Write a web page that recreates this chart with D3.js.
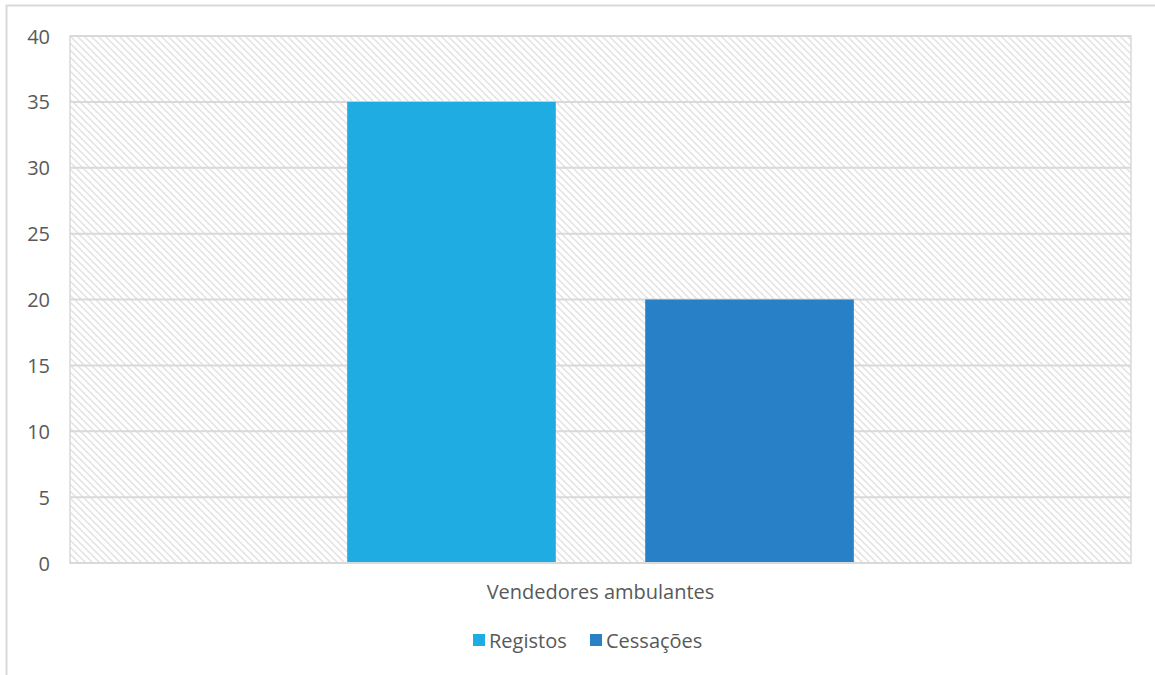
<!DOCTYPE html>
<html><head><meta charset="utf-8">
<script src="https://cdn.jsdelivr.net/npm/d3@7"></script>
<style>body{margin:0;background:#fff;} text{font-family:"Open Sans","Lato",sans-serif;fill:#595959;}</style>
</head><body>
<svg id="c" width="1155" height="675"></svg>
<script>
const categories = ["Vendedores ambulantes"];
const seriesNames = ["Registos", "Cessações"];
const registos = [35];
const cessacoes = [20];
const yTicks = [0, 5, 10, 15, 20, 25, 30, 35, 40];
const colors = ["#1FACE3", "#2880C6"];

const svg = d3.select("#c");
const W = 1155, H = 675;
const m = {left: 70, right: 24, top: 36, bottom: 112};
const pw = W - m.left - m.right, ph = H - m.top - m.bottom;

// outer border
svg.append("rect").attr("x", 6.5).attr("y", 5.5).attr("width", W + 10).attr("height", H + 10)
  .attr("fill", "#fff").attr("stroke", "#d9d9d9").attr("stroke-width", 2);

const defs = svg.append("defs");
const S = 7;
const pat = defs.append("pattern").attr("id", "hatch").attr("patternUnits", "userSpaceOnUse")
  .attr("width", S).attr("height", S);
pat.append("rect").attr("width", S).attr("height", S).attr("fill", "#fff");
pat.append("path").attr("d", `M-2,-2 L${S+2},${S+2} M-2,${S-2} L2,${S+2} M${S-2},-2 L${S+2},2`)
  .attr("stroke", "#e1e1e1").attr("stroke-width", 1.4);

const g = svg.append("g").attr("transform", `translate(${m.left},${m.top})`);
const y = d3.scaleLinear().domain([0, 40]).range([ph, 0]);
const x0 = d3.scaleBand().domain(categories).range([0, pw]);
const x1 = d3.scaleBand().domain(seriesNames).range([0, x0.bandwidth()]).paddingInner(0.3).paddingOuter(0.93);

g.append("rect").attr("width", pw).attr("height", ph).attr("fill", "url(#hatch)")
  .attr("stroke", "#d9d9d9").attr("stroke-width", 1.5);

g.selectAll(".grid").data(yTicks).enter().append("line")
  .attr("x1", 0).attr("x2", pw).attr("y1", d => y(d)).attr("y2", d => y(d))
  .attr("stroke", "#d9d9d9").attr("stroke-width", 2);

const data = categories.map((c, i) => ({cat: c, vals: [registos[i], cessacoes[i]]}));
data.forEach(d => {
  g.selectAll(null).data(d.vals).enter().append("rect")
    .attr("x", (v, j) => x0(d.cat) + x1(seriesNames[j]))
    .attr("width", x1.bandwidth())
    .attr("y", v => y(v)).attr("height", v => ph - y(v))
    .attr("fill", (v, j) => colors[j]);
});

// baseline
g.append("line").attr("x1", 0).attr("x2", pw).attr("y1", ph).attr("y2", ph)
  .attr("stroke", "#d9d9d9").attr("stroke-width", 2);

// y axis labels
const yAxis = d3.axisLeft(y).tickValues(yTicks).tickSize(0).tickPadding(20);
const ya = g.append("g").call(yAxis);
ya.select(".domain").remove();
ya.selectAll("text").style("font-size", "20px").style("font-family", "'Open Sans',sans-serif")
  .attr("fill", "#595959").attr("dy", "0.35em");

// x axis labels
const xAxis = d3.axisBottom(x0).tickSize(0).tickPadding(36);
const xa = g.append("g").attr("transform", `translate(0,${ph})`).call(xAxis);
xa.select(".domain").remove();
xa.selectAll("text").style("font-size", "20px").style("font-family", "'Open Sans',sans-serif")
  .attr("fill", "#595959").attr("dy", "0");

// legend
const legend = svg.append("g");
const lx = [473, 590];
seriesNames.forEach((s, i) => {
  legend.append("rect").attr("x", lx[i]).attr("y", 634).attr("width", 12).attr("height", 12).attr("fill", colors[i]);
  legend.append("text").attr("x", lx[i] + 16).attr("y", 648).text(s).style("font-size", "20px");
});
</script>
</body></html>
